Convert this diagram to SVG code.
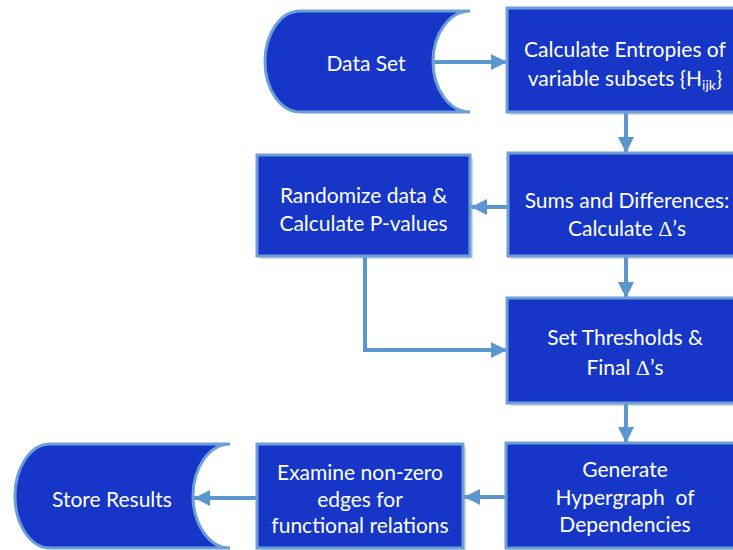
<svg xmlns="http://www.w3.org/2000/svg" width="733" height="550" viewBox="0 0 733 550">
<style>
.box{fill:#1636c8;stroke:#6c9fd6;stroke-width:3}
.sh{fill:#8a9ab0;opacity:0.35}
.t{font-family:Lato,"Open Sans","Liberation Sans",sans-serif;font-size:21px;fill:#ffffff;text-anchor:middle}
.d{font-family:"Liberation Serif",serif;font-size:22px}
.c{fill:none;stroke:#5b96cf;stroke-width:4}
</style>
<defs>
<marker id="ah" markerWidth="16" markerHeight="16" refX="16" refY="8" orient="auto" markerUnits="userSpaceOnUse">
<path d="M0,0 L16,8 L0,16 Z" fill="#5b96cf"/>
</marker>
</defs>
<rect width="733" height="550" fill="#ffffff"/>
<g id="connectors">
<line class="c" x1="433" y1="62" x2="507" y2="62" marker-end="url(#ah)"/>
<line class="c" x1="626" y1="112" x2="626" y2="153" marker-end="url(#ah)"/>
<line class="c" x1="508" y1="207" x2="471" y2="207" marker-end="url(#ah)"/>
<line class="c" x1="626" y1="256" x2="626" y2="298" marker-end="url(#ah)"/>
<polyline class="c" points="365,256 365,350 507,350" marker-end="url(#ah)"/>
<line class="c" x1="626" y1="403" x2="626" y2="443" marker-end="url(#ah)"/>
<line class="c" x1="507" y1="497" x2="464" y2="497" marker-end="url(#ah)"/>
<line class="c" x1="257" y1="498" x2="194" y2="498" marker-end="url(#ah)"/>
</g>
<g id="dataset">
<path class="box" d="M300,11 L470,11 A37,50.5 0 0 0 470,112 L300,112 A35,50.5 0 0 1 300,11 Z"/>
<text class="t" x="366" y="71">Data Set</text>
</g>
<g id="entropies">
<rect class="sh" x="510" y="11" width="236" height="104"/>
<rect class="box" x="507" y="8" width="236" height="104"/>
<text class="t" x="625" y="57">Calculate Entropies of</text>
<text class="t" x="625" y="86">variable subsets {H<tspan font-size="14" dy="4">ijk</tspan><tspan dy="-4">}</tspan></text>
</g>
<g id="sums">
<rect class="sh" x="511" y="156" width="236" height="103"/>
<rect class="box" x="508" y="153" width="236" height="103"/>
<text class="t" x="627" y="208">Sums and Differences:</text>
<text class="t" x="627" y="236">Calculate <tspan class="d">Δ</tspan>’s</text>
</g>
<g id="randomize">
<rect class="sh" x="260" y="158" width="213" height="101"/>
<rect class="box" x="257" y="155" width="213" height="101"/>
<text class="t" x="363.5" y="203">Randomize data &amp;</text>
<text class="t" x="363.5" y="231">Calculate P-values</text>
</g>
<g id="thresholds">
<rect class="sh" x="510" y="301" width="236" height="105"/>
<rect class="box" x="507" y="298" width="236" height="105"/>
<text class="t" x="625" y="345">Set Thresholds &amp;</text>
<text class="t" x="625" y="375">Final <tspan class="d">Δ</tspan>’s</text>
</g>
<g id="generate">
<rect class="sh" x="509" y="446" width="236" height="105"/>
<rect class="box" x="506" y="443" width="236" height="105"/>
<text class="t" x="625" y="477">Generate</text>
<text class="t" x="625" y="505">Hypergraph&#160; of</text>
<text class="t" x="625" y="532">Dependencies</text>
</g>
<g id="examine">
<rect class="sh" x="260" y="447" width="206" height="104"/>
<rect class="box" x="257" y="444" width="206" height="104"/>
<text class="t" x="360" y="480">Examine non-zero</text>
<text class="t" x="360" y="507">edges for</text>
<text class="t" x="360" y="533">functional relations</text>
</g>
<g id="store">
<path class="box" d="M50,444 L230,444 A37,52 0 0 0 230,548 L50,548 A35,52 0 0 1 50,444 Z"/>
<text class="t" x="112" y="507">Store Results</text>
</g>
</svg>
